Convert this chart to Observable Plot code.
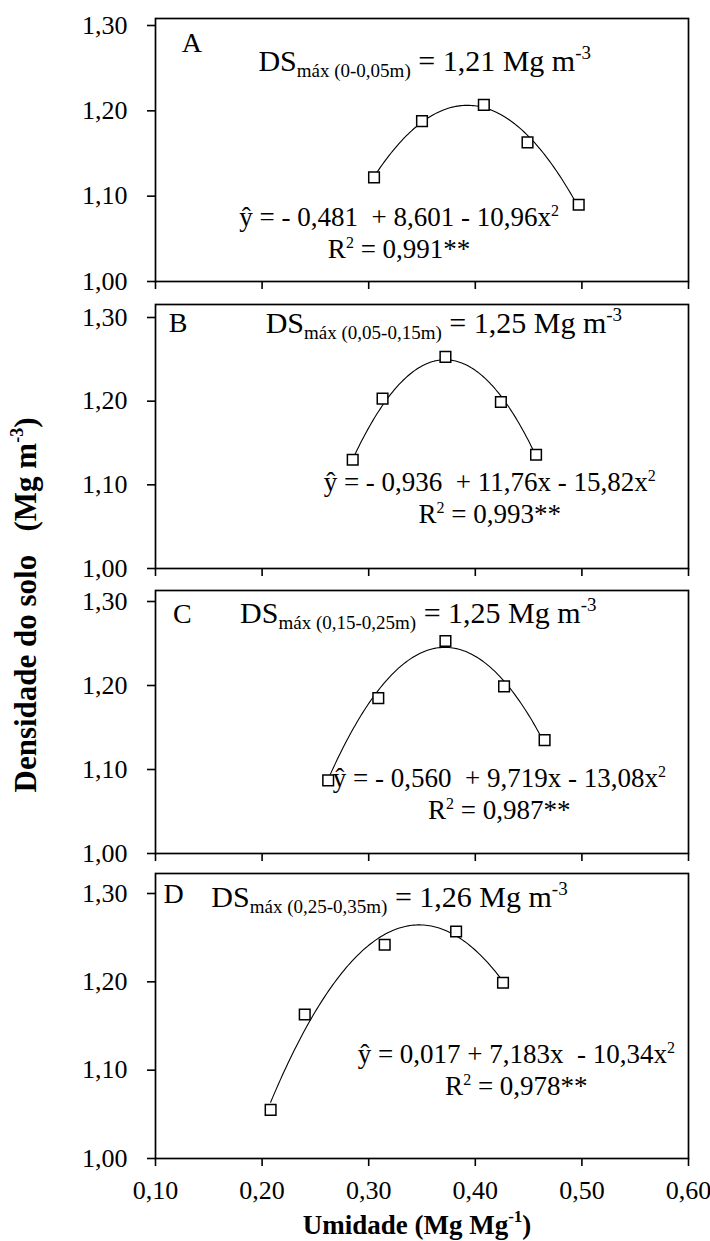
<!DOCTYPE html>
<html>
<head>
<meta charset="utf-8">
<script src="https://cdn.jsdelivr.net/npm/d3@7"></script>
<script src="https://cdn.jsdelivr.net/npm/@observablehq/plot@0.6"></script>
<style>
  html, body { margin: 0; padding: 0; background: #fff; }
  #root { position: relative; width: 710px; height: 1241px; overflow: hidden; background: #fff; }
  #root svg { position: absolute; left: 0; }
</style>
</head>
<body>
<div id="root"></div>
<script>
// ---------------- data ----------------
const panelLetters = ["A", "B", "C", "D"];
const depthLabels = ["0-0,05m", "0,05-0,15m", "0,15-0,25m", "0,25-0,35m"];
const dsMaxValues = ["1,21", "1,25", "1,25", "1,26"];

const moistureA = [0.305, 0.350, 0.408, 0.449, 0.497];
const densityA  = [1.122, 1.188, 1.207, 1.163, 1.090];
const moistureB = [0.285, 0.313, 0.372, 0.424, 0.457];
const densityB  = [1.130, 1.203, 1.253, 1.199, 1.136];
const moistureC = [0.262, 0.309, 0.372, 0.427, 0.465];
const densityC  = [1.087, 1.185, 1.253, 1.199, 1.135];
const moistureD = [0.208, 0.240, 0.315, 0.382, 0.426];
const densityD  = [1.055, 1.163, 1.242, 1.257, 1.199];

// fitted quadratic as printed on the chart: y = b0 + b1 x + b2 x^2
const coefB0 = [-0.481, -0.936, -0.560, 0.017];
const coefB1 = [8.601, 11.76, 9.719, 7.183];
const coefB2 = [-10.96, -15.82, -13.08, -10.34];
const curveStart = [0.305, 0.285, 0.262, 0.208];
const curveEnd   = [0.497, 0.458, 0.465, 0.426];

const equationTexts = [
  "ŷ = - 0,481  + 8,601 - 10,96x",
  "ŷ = - 0,936  + 11,76x - 15,82x",
  "ŷ = - 0,560  + 9,719x - 13,08x",
  "ŷ = 0,017 + 7,183x  - 10,34x"
];
const r2Values = ["0,991**", "0,993**", "0,987**", "0,978**"];

const xTicks = [0.10, 0.20, 0.30, 0.40, 0.50, 0.60];
const yTicks = [1.00, 1.10, 1.20, 1.30];

const yTitle = "Densidade do solo";
const yUnit = "(Mg m";
const xTitle = "Umidade (Mg Mg";

// ---------------- layout (page pixels / data-space anchors) ----------------
const FONT = "'Liberation Serif', 'Times New Roman', serif";
const layout = [
  { frameTop: 18,  y130: 25,  y100: 281,  labels: false,
    letter: [0.125, 1.268], ds: [0.353, 1.246], eq: [0.329, 1.064] },
  { frameTop: 304, y130: 317, y100: 568,  labels: false,
    letter: [0.113, 1.282], ds: [0.371, 1.281], eq: [0.414, 1.092] },
  { frameTop: 590, y130: 601, y100: 853,  labels: false,
    letter: [0.117, 1.274], ds: [0.347, 1.274], eq: [0.423, 1.078] },
  { frameTop: 873, y130: 893, y100: 1158, labels: true,
    letter: [0.108, 1.289], ds: [0.320, 1.284], eq: [0.439, 1.107] }
];

const moisture = [moistureA, moistureB, moistureC, moistureD];
const density = [densityA, densityB, densityC, densityD];

const fmt = d => d.toFixed(2).replace(".", ",");
const root = document.getElementById("root");

function richText(svg, x, y, anchor, parts) {
  const t = d3.select(svg).append("text")
    .attr("x", x).attr("y", y)
    .attr("text-anchor", anchor)
    .attr("font-family", FONT)
    .attr("fill", "black")
    .style("white-space", "pre");
  parts.forEach(p => {
    const s = t.append("tspan").attr("font-size", p.size).text(p.text);
    if (p.dy) s.attr("dy", p.dy);
    if (p.x !== undefined) s.attr("x", p.x);
  });
  return t;
}

for (let i = 0; i < 4; i++) {
  const L = layout[i];
  const padTop = 12;
  const svgTop = L.frameTop - padTop;
  const mb = L.labels ? 70 : 14;
  const height = (L.y100 - svgTop) + mb;

  const pts = moisture[i].map((m, k) => ({ x: m, y: density[i][k] }));
  const curve = d3.range(0, 121).map(k => {
    const x = curveStart[i] + (curveEnd[i] - curveStart[i]) * k / 120;
    return { x, y: coefB0[i] + coefB1[i] * x + coefB2[i] * x * x };
  });

  const chart = Plot.plot({
    width: 710,
    height,
    marginLeft: 155,
    marginRight: 22,
    marginTop: padTop,
    marginBottom: mb,
    style: { fontFamily: FONT, fontSize: "26px", color: "black", background: "transparent", overflow: "visible" },
    x: { domain: [0.1, 0.6] },
    y: { domain: [1.0, 1.3], range: [L.y100 - svgTop, L.y130 - svgTop] },
    marks: [
      Plot.axisY({ ticks: yTicks, tickFormat: fmt, tickSize: 8, tickPadding: 20, fontSize: 26,
                   stroke: "black", strokeWidth: 1.6, label: null }),
      Plot.axisX({ ticks: xTicks, tickFormat: L.labels ? fmt : () => "", tickSize: 8, tickPadding: 14,
                   fontSize: 26, stroke: "black", strokeWidth: 1.6, label: null }),
      Plot.frame({ stroke: "black", strokeWidth: 1.7 }),
      Plot.line(curve, { x: "x", y: "y", stroke: "black", strokeWidth: 1.1, curve: "linear" }),
      Plot.dot(pts, { x: "x", y: "y", symbol: "square", r: 6, fill: "white", stroke: "black", strokeWidth: 1.5 })
    ]
  });
  chart.style.top = svgTop + "px";
  root.appendChild(chart);

  const sx = v => chart.scale("x").apply(v);
  const sy = v => chart.scale("y").apply(v);

  richText(chart, sx(L.letter[0]), sy(L.letter[1]), "start", [{ text: panelLetters[i], size: 28 }]);
  richText(chart, sx(L.ds[0]), sy(L.ds[1]), "middle", [
    { text: "DS", size: 30 },
    { text: "máx (" + depthLabels[i] + ")", size: 19, dy: 6 },
    { text: " = " + dsMaxValues[i] + " Mg m", size: 30, dy: -6 },
    { text: "-3", size: 19, dy: -12 }
  ]);
  // equation and R² as two lines of one text block
  const cx = sx(L.eq[0]);
  richText(chart, cx, sy(L.eq[1]), "middle", [
    { text: equationTexts[i], size: 27 },
    { text: "2", size: 16, dy: -10 },
    { text: "R", size: 27, dy: 42, x: cx },
    { text: "2", size: 16, dy: -10 },
    { text: " = " + r2Values[i], size: 27, dy: 10 }
  ]);
}

// axis titles
const overlay = d3.select(root).append("svg")
  .attr("width", 710).attr("height", 1241)
  .style("top", "0px").style("pointer-events", "none");

const yt = overlay.append("text")
  .attr("transform", "translate(36,605) rotate(-90)")
  .attr("text-anchor", "middle")
  .attr("font-family", FONT).attr("font-weight", "bold").attr("fill", "black")
  .style("white-space", "pre");
yt.append("tspan").attr("font-size", 31).text(yTitle + "   " + yUnit);
yt.append("tspan").attr("font-size", 18).attr("dy", -13).text("-3");
yt.append("tspan").attr("font-size", 31).attr("dy", 13).text(")");

const xt = overlay.append("text")
  .attr("x", 417).attr("y", 1234)
  .attr("text-anchor", "middle")
  .attr("font-family", FONT).attr("font-weight", "bold").attr("fill", "black")
  .style("white-space", "pre");
xt.append("tspan").attr("font-size", 27).text(xTitle);
xt.append("tspan").attr("font-size", 17).attr("dy", -12).text("-1");
xt.append("tspan").attr("font-size", 27).attr("dy", 12).text(")");
</script>
</body>
</html>
